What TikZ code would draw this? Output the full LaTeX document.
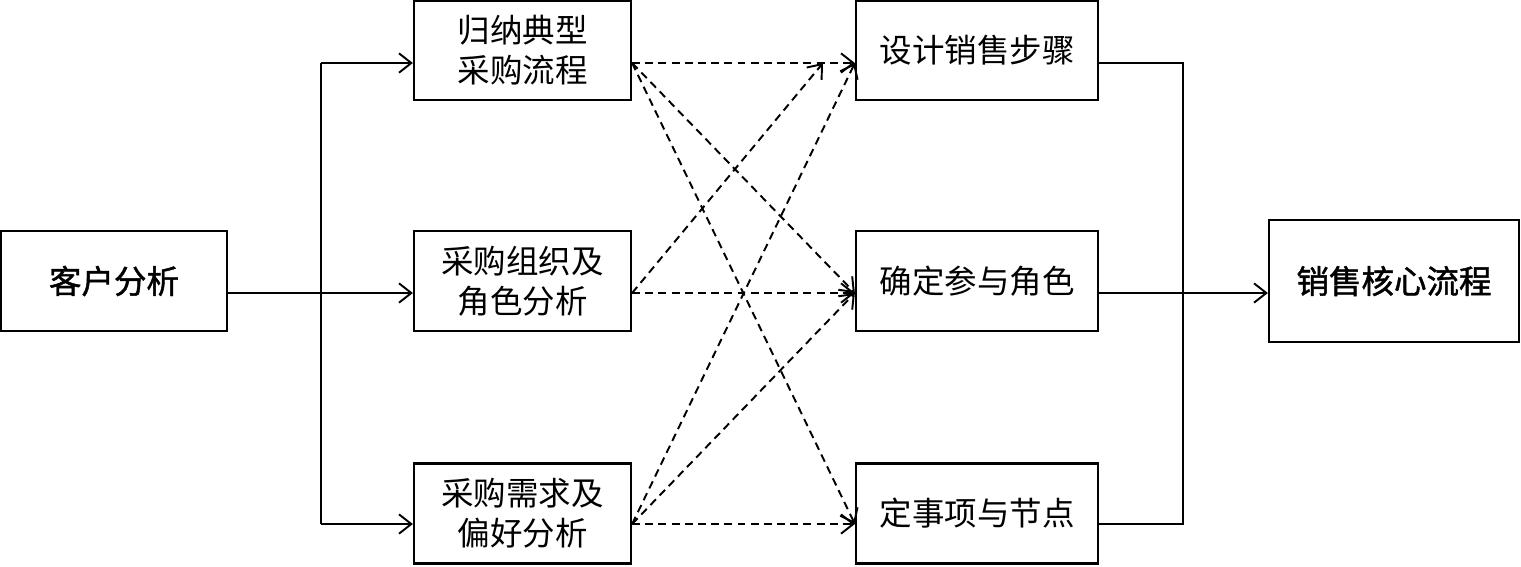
\documentclass[tikz,border=0pt]{standalone}
\usepackage{fontspec}
\setmainfont{Noto Sans CJK SC}
\newfontfamily\kfont{Noto Sans CJK SC}[FakeBold=1.4]
\usetikzlibrary{arrows.meta,calc}
\begin{document}
\begin{tikzpicture}[x=0.02cm,y=-0.02cm,
  box/.style={draw,line width=1.3pt,inner sep=0pt,align=center,
    font=\fontsize{18.5}{22.7}\selectfont},
  kbox/.style={box,font=\fontsize{18.5}{22.7}\selectfont\kfont},
  solidline/.style={line width=1.1pt},
  conn/.style={line width=1.1pt,-{Straight Barb[length=7pt,width=11pt,line width=1.1pt]}},
  dconn/.style={conn,dash pattern=on 4.5pt off 3pt}]
\useasboundingbox (0,0) rectangle (1521,566);
% nodes
\node[kbox,minimum width=4.52cm,minimum height=2cm] (ka) at (114,281) {客户分析};
\node[box,minimum width=4.34cm,minimum height=1.98cm] (l1) at (522.5,50.5) {归纳典型\\采购流程};
\node[box,minimum width=4.34cm,minimum height=2cm] (l2) at (522.5,281) {采购组织及\\角色分析};
\node[box,minimum width=4.34cm,minimum height=2cm] (l3) at (522.5,513.5) {采购需求及\\偏好分析};
\node[box,minimum width=4.84cm,minimum height=1.98cm] (r1) at (977,50.5) {设计销售步骤};
\node[box,minimum width=4.84cm,minimum height=2cm] (r2) at (977,281) {确定参与角色};
\node[box,minimum width=4.84cm,minimum height=2cm] (r3) at (977,513.5) {定事项与节点};
\node[kbox,minimum width=5cm,minimum height=2.44cm] (out) at (1394,281) {销售核心流程};
% helper coordinates
\coordinate (y1) at (0,63);
\coordinate (y2) at (0,293);
\coordinate (y3) at (0,524);
\coordinate (bl) at (321,0);
\coordinate (br) at (1183,0);
\coordinate (stop) at (823,63);
% left bus
\draw[conn] (ka.east |- y2) -- (l2.west |- y2);
\draw[solidline] (bl |- y1) -- (bl |- y3);
\draw[conn] (bl |- y1) -- (l1.west |- y1);
\draw[conn] (bl |- y3) -- (l3.west |- y3);
% right bus
\draw[solidline] (r1.east |- y1) -- (br |- y1) -- (br |- y3) -- (r3.east |- y3);
\draw[conn] (r2.east |- y2) -- (out.west |- y2);
% dashed cross links
\draw[dconn] (l1.east |- y1) -- (r1.west |- y1);
\draw[dconn] (l1.east |- y1) -- (r2.west |- y2);
\draw[dconn] (l1.east |- y1) -- (r3.west |- y3);
\draw[dconn] (l2.east |- y2) -- (stop);
\draw[dconn] (l2.east |- y2) -- (r2.west |- y2);
\draw[dconn] (l3.east |- y3) -- (r1.west |- y1);
\draw[dconn] (l3.east |- y3) -- (r2.west |- y2);
\draw[dconn] (l3.east |- y3) -- (r3.west |- y3);
\end{tikzpicture}
\end{document}
